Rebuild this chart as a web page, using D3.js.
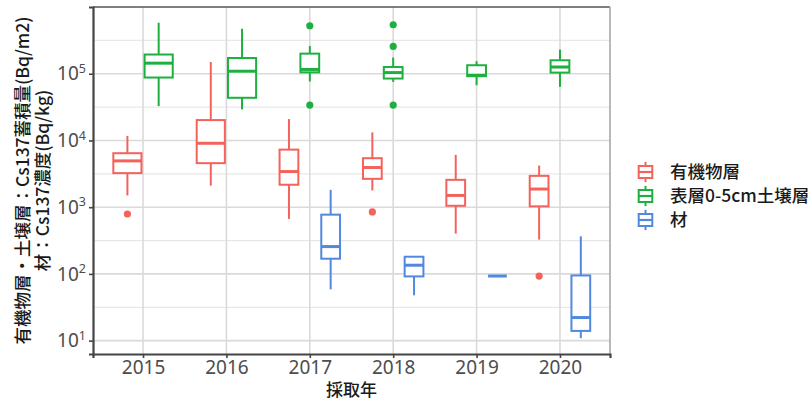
<!DOCTYPE html>
<html>
<head>
<meta charset="utf-8">
<script src="https://cdn.jsdelivr.net/npm/d3@7"></script>
<style>
  body { margin: 0; background: #fff; }
  svg { display: block; font-family: "Noto Sans CJK JP", "Noto Sans", sans-serif; }
</style>
</head>
<body>
<svg id="chart" width="811" height="401"></svg>
<script>
// categories
var years = ["2015", "2016", "2017", "2018", "2019", "2020"];
var seriesNames = ["有機物層", "表層0-5cm土壌層", "材"];
var seriesColors = ["#F4625C", "#1DB03F", "#5089DD"];
var yTicks = [10, 100, 1000, 10000, 100000];

// box stats per year: [lower whisker, q1, median, q3, upper whisker] (Bq)
var organicStats = [
  [1500, 3240, 4940, 6440, 11700],
  [2110, 4570, 9080, 20200, 150000],
  [667, 2170, 3420, 7290, 20900],
  [1780, 2660, 3930, 5420, 13200],
  [402, 1050, 1500, 2570, 6080],
  [327, 1030, 1870, 2950, 4210]
];
var organicOutliers = [[790], [], [], [850], [], [93]];

var soilStats = [
  [32700, 87700, 144000, 194000, 581000],
  [29200, 43600, 109000, 172000, 473000],
  [76600, 105000, 116000, 200000, 260000],
  [75500, 84700, 104000, 126000, 175000],
  [67300, 91800, 95100, 134000, 154000],
  [63500, 104000, 126000, 159000, 230000]
];
var soilOutliers = [[], [], [524000, 33900], [542000, 257000, 33900], [], []];

var woodStats = [
  null,
  null,
  [58.7, 169, 257, 773, 1820],
  [47.8, 91.8, 135, 181, 181],
  [93, 93, 93, 93, 93],
  [10.9, 14.0, 22.2, 94.8, 366]
];
var woodOutliers = [[], [], [], [], [], []];

var allStats = [organicStats, soilStats, woodStats];
var allOutliers = [organicOutliers, soilOutliers, woodOutliers];

var margin = { top: 7, right: 201, bottom: 47, left: 93 };
var W = 811, H = 401;
var width = W - margin.left - margin.right,
    height = H - margin.top - margin.bottom;

var svg = d3.select("#chart");
var g = svg.append("g").attr("transform", "translate(" + margin.left + "," + margin.top + ")");

var x = d3.scalePoint().domain(years).range([0, width]).padding(0.6);
var step = x.step();
var y = d3.scaleLog().domain([Math.pow(10, 0.80), Math.pow(10, 6.0)]).range([height, 0]);

// grid
var minorTicks = yTicks.map(function(d) { return d * Math.sqrt(10); });
g.selectAll(".minor").data(minorTicks.filter(function(d) { return y(d) > 0 && y(d) < height; }))
  .enter().append("line")
  .attr("x1", 0).attr("x2", width)
  .attr("y1", function(d) { return y(d); }).attr("y2", function(d) { return y(d); })
  .attr("stroke", "#e8e8e8").attr("stroke-width", 1.2);
g.selectAll(".hmajor").data(yTicks).enter().append("line")
  .attr("x1", 0).attr("x2", width)
  .attr("y1", function(d) { return y(d); }).attr("y2", function(d) { return y(d); })
  .attr("stroke", "#dadada").attr("stroke-width", 1.6);
g.selectAll(".vmajor").data(years).enter().append("line")
  .attr("x1", function(d) { return x(d); }).attr("x2", function(d) { return x(d); })
  .attr("y1", 0).attr("y2", height)
  .attr("stroke", "#dadada").attr("stroke-width", 1.6);

// boxes
years.forEach(function(yr, i) {
  var present = [];
  allStats.forEach(function(s, k) { if (s[i]) present.push(k); });
  var inner = d3.scaleBand().domain(present)
    .range([x(yr) - step * 0.375, x(yr) + step * 0.375])
    .paddingInner(0.1).paddingOuter(0.05);
  present.forEach(function(k) {
    var st = allStats[k][i];
    var col = seriesColors[k];
    var x0 = inner(k), bw = inner.bandwidth(), cx = x0 + bw / 2;
    var bg = g.append("g");
    bg.append("line").attr("x1", cx).attr("x2", cx).attr("y1", y(st[3])).attr("y2", y(st[4]))
      .attr("stroke", col).attr("stroke-width", 2);
    bg.append("line").attr("x1", cx).attr("x2", cx).attr("y1", y(st[1])).attr("y2", y(st[0]))
      .attr("stroke", col).attr("stroke-width", 2);
    bg.append("rect").attr("x", x0).attr("width", bw)
      .attr("y", y(st[3])).attr("height", Math.max(0, y(st[1]) - y(st[3])))
      .attr("fill", "#fff").attr("stroke", col).attr("stroke-width", 2);
    bg.append("line").attr("x1", x0).attr("x2", x0 + bw).attr("y1", y(st[2])).attr("y2", y(st[2]))
      .attr("stroke", col).attr("stroke-width", 3);
    bg.selectAll("circle").data(allOutliers[k][i]).enter().append("circle")
      .attr("cx", cx).attr("cy", function(d) { return y(d); }).attr("r", 3.6)
      .attr("fill", col);
  });
});

// panel border
g.append("line").attr("x1", 0).attr("x2", width).attr("y1", 0).attr("y2", 0)
  .attr("stroke", "#555").attr("stroke-width", 1.6);
g.append("line").attr("x1", width).attr("x2", width).attr("y1", 0).attr("y2", height)
  .attr("stroke", "#a8a8a8").attr("stroke-width", 1.6);

// axes
var xAxis = g.append("g").attr("transform", "translate(0," + height + ")")
  .call(d3.axisBottom(x).tickSize(4).tickPadding(3));
var yAxis = g.append("g")
  .call(d3.axisLeft(y).tickValues(yTicks).tickSize(4).tickPadding(4).tickFormat(""));
[xAxis, yAxis].forEach(function(a) {
  a.select(".domain").attr("stroke", "#444").attr("stroke-width", 2.2);
  a.selectAll(".tick line").attr("stroke", "#444").attr("stroke-width", 1.6);
});
xAxis.selectAll(".tick text").attr("font-size", 19).attr("fill", "#4d4d4d")
  .attr("font-family", "Noto Sans, sans-serif");

yAxis.selectAll(".tick").each(function(d) {
  var t = d3.select(this).select("text")
    .attr("font-size", 19).attr("fill", "#4d4d4d").attr("x", -7)
    .attr("font-family", "Noto Sans, sans-serif");
  t.text("");
  t.append("tspan").text("10");
  t.append("tspan").attr("font-size", 12.5).attr("dy", "-0.6em").text(Math.round(Math.log10(d)));
});

// axis titles
svg.append("text").attr("x", margin.left + width / 2).attr("y", 396)
  .attr("text-anchor", "middle").attr("font-size", 17).attr("font-weight", 500).attr("fill", "#1a1a1a")
  .text("採取年");

var yt = svg.append("text")
  .attr("transform", "translate(29," + (margin.top + height / 2) + ") rotate(-90)")
  .attr("text-anchor", "middle").attr("font-size", 17.5).attr("font-weight", 500).attr("fill", "#1a1a1a");
yt.append("tspan").attr("x", 0).attr("dy", 0).text("有機物層・土壌層：Cs137蓄積量(Bq/m2)");
yt.append("tspan").attr("x", 0).attr("dy", 20).text("材：Cs137濃度(Bq/kg)");

// legend
var legend = svg.append("g").attr("transform", "translate(637,160)");
var keyH = 24, keyW = 17;
var items = legend.selectAll(".item").data(seriesNames).enter().append("g")
  .attr("transform", function(d, i) { return "translate(0," + (i * keyH) + ")"; });
items.append("line").attr("x1", keyW / 2).attr("x2", keyW / 2).attr("y1", keyH * 0.08).attr("y2", keyH * 0.92)
  .attr("stroke", function(d, i) { return seriesColors[i]; }).attr("stroke-width", 2);
items.append("rect").attr("x", keyW * 0.1).attr("width", keyW * 0.8)
  .attr("y", keyH * 0.25).attr("height", keyH * 0.5)
  .attr("fill", "#fff").attr("stroke", function(d, i) { return seriesColors[i]; }).attr("stroke-width", 2);
items.append("line").attr("x1", keyW * 0.1).attr("x2", keyW * 0.9).attr("y1", keyH / 2).attr("y2", keyH / 2)
  .attr("stroke", function(d, i) { return seriesColors[i]; }).attr("stroke-width", 2.2);
items.append("text").attr("x", 33).attr("y", keyH / 2).attr("dy", "0.36em")
  .attr("font-size", 17.5).attr("font-weight", 500).attr("fill", "#1a1a1a")
  .text(function(d) { return d; });
</script>
</body>
</html>
